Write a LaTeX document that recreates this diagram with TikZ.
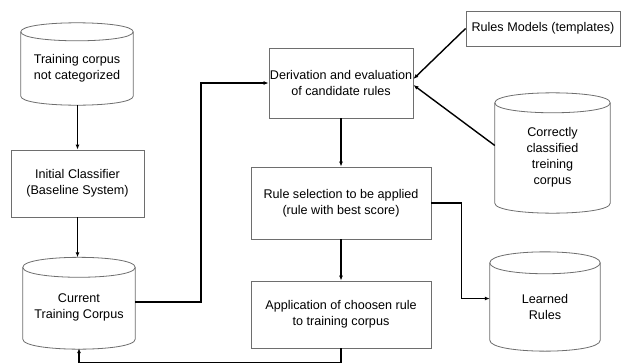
\documentclass[tikz,border=0pt]{standalone}
\usepackage{fontspec}
\setmainfont{Liberation Sans}
\usetikzlibrary{arrows.meta,calc}
\definecolor{boxgray}{RGB}{110,110,110}
\newcommand\fsz{\fontsize{12.6}{16}\selectfont}
\newcommand\cylout[3]{%
  \draw[cylline] (#1.north west) .. controls +(0,-#3) and +(0,-#3) .. (#1.north east)
                 .. controls +(0,#3) and +(0,#3) .. (#1.north west);
  \draw[cylline] (#1.north west) -- ($(#1.south west)+(0,-#2)$)
                 .. controls +(0,#3) and +(0,#3) .. ($(#1.south east)+(0,-#2)$) -- (#1.north east);
}
\begin{document}
\begin{tikzpicture}[x=1pt,y=-1pt,
  box/.style={draw=boxgray, line width=0.8pt, rectangle, inner sep=0pt, align=center, font=\fsz},
  cyl/.style={rectangle, inner sep=0pt, align=center, font=\fsz},
  cylline/.style={draw=boxgray, line width=0.8pt},
  conn/.style={line width=1.2pt, -{Latex[length=5pt,width=4pt]}},
  thickconn/.style={line width=1.6pt, -{Latex[length=5pt,width=4pt]}},
  diagconn/.style={line width=1.4pt, -{Latex[length=5pt,width=4pt]}}
]
\fill[white] (0,0) rectangle (621,364);
\useasboundingbox (0,0) rectangle (621,364);

% nodes
\node[cyl, minimum width=112pt, minimum height=73pt] (C1) at (77,68.5) {Training corpus\\not categorized};
\node[box, minimum width=133pt, minimum height=67pt] (B1) at (77.5,183.5) {Initial Classifier\\(Baseline System)};
\node[cyl, minimum width=112pt, minimum height=80.5pt] (C2) at (79,307.75) {Current\\Training Corpus};
\node[box, minimum width=144pt, minimum height=70pt] (D) at (341,83) {Derivation and evaluation\\of candidate rules};
\node[box, minimum width=180pt, minimum height=72pt] (R) at (341,203) {Rule selection to be applied\\(rule with best score)};
\node[box, minimum width=180pt, minimum height=67pt] (A) at (341,314.5) {Application of choosen rule\\to training corpus};
\node[box, minimum width=154pt, minimum height=35pt] (M) at (543,28.5) {Rules Models (templates)};
\node[cyl, minimum width=115pt, minimum height=109pt] (C3) at (552.5,157.5) {Correctly\\classified\\treining\\corpus};
\node[cyl, minimum width=110pt, minimum height=87pt] (L) at (545,306.5) {Learned\\Rules};

% cylinder outlines
\cylout{C1}{9}{12}
\cylout{C2}{9}{13.3}
\cylout{C3}{9}{13.3}
\cylout{L}{10}{14.6}

% connectors
\draw[conn] (C1.south) -- (B1.south |- C1.south) -- (B1.north);
\draw[conn] (B1.south) -- ($(B1.south |- C2.north)+(0,-10)$);
\draw[thickconn] ($(C2.east)+(0,-6)$) -- ++(66,0) |- (D.west);
\draw[conn] (D.south) -- (R.north);
\draw[conn] (R.south) -- (A.north);
\draw[thickconn] (A.south) -- ++(0,14) -| (C2.south);
\draw[thickconn] (R.east) -- ++(30,0) |- ($(L.west)+(0,-8)$);
\draw[diagconn] (M.west) -- ($(D.east)+(0,-4)$);
\draw[diagconn] ($(C3.west)+(0,-12)$) -- ($(D.east)+(0,2)$);
\end{tikzpicture}
\end{document}
